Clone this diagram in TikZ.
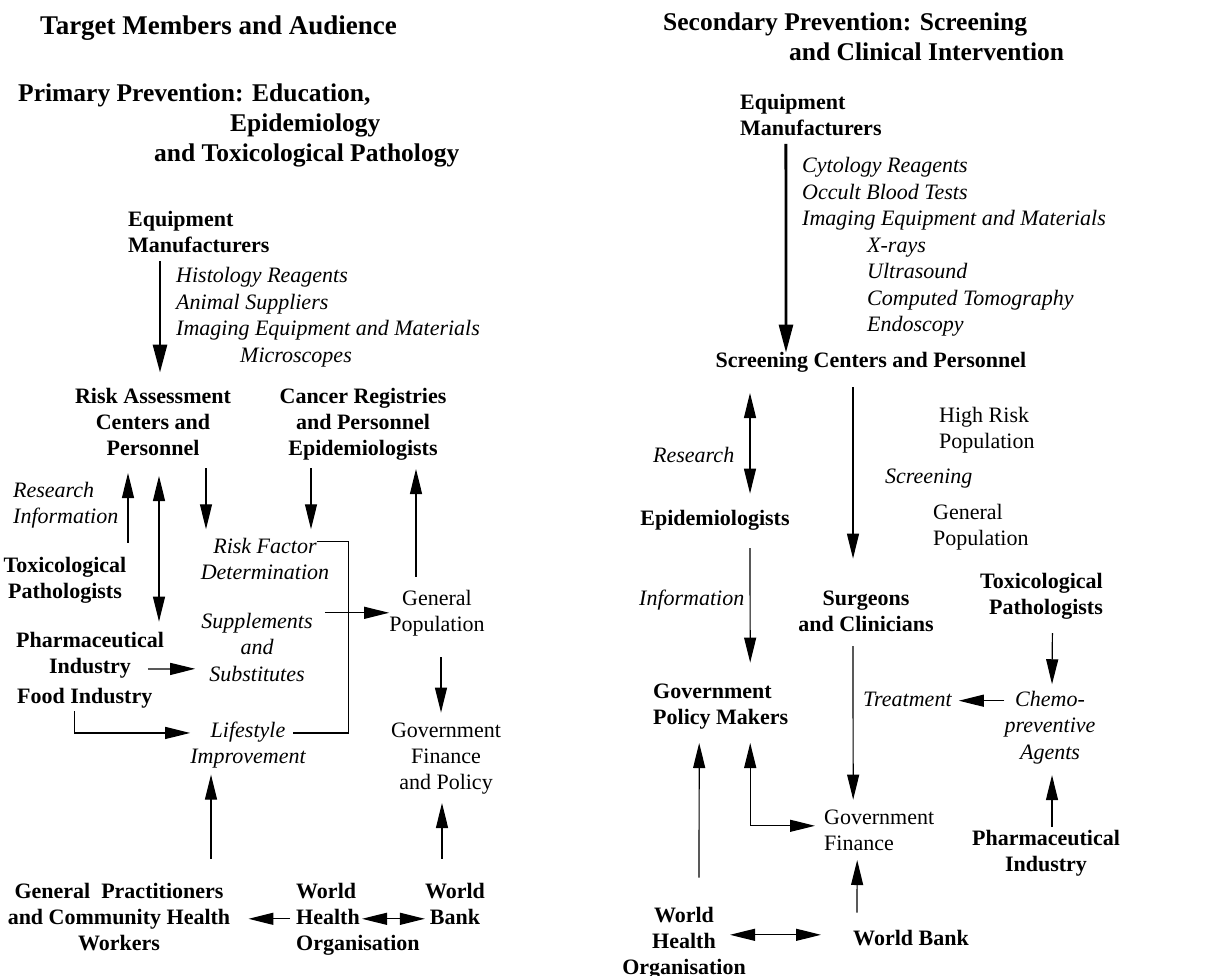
\documentclass[tikz,border=0pt]{standalone}
\usepackage{fontspec}
\setmainfont{Liberation Serif}
\usetikzlibrary{arrows.meta}

\newcommand{\cstack}[1]{\begin{tabular}[t]{@{}c@{}}#1\end{tabular}}
\newcommand{\lstack}[1]{\begin{tabular}[t]{@{}l@{}}#1\end{tabular}}
\newcommand{\rstack}[1]{\begin{tabular}[t]{@{}r@{}}#1\end{tabular}}

\tikzset{
  txt/.style={inner sep=0pt, anchor=base, font=\fontsize{22}{26}\selectfont},
  hd/.style={txt, font=\fontsize{22}{26}\selectfont\bfseries},
  itl/.style={txt, font=\fontsize{22}{26.5}\selectfont\itshape},
  ttl/.style={txt, anchor=base west, font=\fontsize{27}{32}\selectfont\bfseries},
  sub/.style={txt, anchor=base west, font=\fontsize{25.5}{30}\selectfont\bfseries},
  line/.style={line width=1.2pt},
  arr/.style={line, -{Triangle[length=25pt,width=12pt]}},
  dbl/.style={line, {Triangle[length=25pt,width=12pt]}-{Triangle[length=25pt,width=12pt]}},
  bigarr/.style={line width=2.8pt, -{Triangle[length=28pt,width=14pt]}}
}

\begin{document}
\begin{tikzpicture}[x=1pt,y=-1pt]
\useasboundingbox (0,0) rectangle (1212,976);
%headings
\node[ttl] (target) at (40,35) {Target Members and Audience};
\node[sub] (primary) at (18,102) {\lstack{Primary Prevention: Education,\\\hspace*{212pt}Epidemiology\\\hspace*{136pt}and Toxicological Pathology}};
\node[sub] (secondary) at (663,31) {\lstack{Secondary Prevention: Screening\\\hspace*{126pt}and Clinical Intervention}};

% primary prevention
\node[hd, anchor=base west] (equipA) at (128,227) {\lstack{Equipment\\Manufacturers}};
\node[itl, anchor=base west] (toolsA) at (176,283) {\lstack{Histology Reagents\\Animal Suppliers\\Imaging Equipment and Materials\\\hspace*{64pt}Microscopes}};
\node[hd] (riskA) at (153,403) {\cstack{Risk Assessment\\Centers and\\Personnel}};
\node[hd] (cancer) at (363,403) {\cstack{Cancer Registries\\and Personnel\\Epidemiologists}};
\node[itl, anchor=base west] (resinfo) at (13,497) {\lstack{Research\\Information}};
\node[hd] (toxA) at (65,572) {\cstack{Toxicological\\Pathologists}};
\node[itl] (riskf) at (265,553) {\cstack{Risk Factor\\Determination}};
\node[itl] (supp) at (257,628) {\cstack{Supplements\\and\\Substitutes}};
\node[txt] (popA) at (437,605) {\cstack{General\\Population}};
\node[hd] (pharmA) at (90,647) {\cstack{Pharmaceutical\\Industry}};
\node[hd, anchor=base west] (food) at (17,703) {\lstack{Food Industry}};
\node[itl] (life) at (248,737) {\cstack{Lifestyle\\Improvement}};
\node[txt] (govA) at (446,737) {\cstack{Government\\Finance\\and Policy}};
\node[hd] (gp) at (119,898) {\cstack{General~~Practitioners\\and Community Health\\Workers}};
\node[hd, anchor=base west] (whoA) at (296,898) {\lstack{World\\Health\\Organisation}};
\node[hd] (bankA) at (455,898) {\cstack{World\\Bank}};

%draw primary arrows
\draw[bigarr, shorten >=12pt] ([xshift=32pt]equipA.south west) -- ([xshift=7pt]riskA.north);
\draw[arr, shorten <=11pt, shorten >=10pt] ([xshift=63pt]toxA.north) -- ([xshift=-25pt]riskA.south);
\draw[dbl, shorten <=13pt, shorten >=7pt] ([xshift=6pt]riskA.south) -- ([xshift=69pt]pharmA.north);
\draw[arr, shorten <=5pt, shorten >=5pt] ([xshift=53pt]riskA.south) -- ([xshift=-59pt]riskf.north);
\draw[arr, shorten <=5pt, shorten >=5pt] ([xshift=-52pt]cancer.south) -- ([xshift=46pt]riskf.north);
\draw[arr, shorten <=10pt, shorten >=6pt] ([xshift=-21pt]popA.north) -- ([xshift=53pt]cancer.south);
\draw[line] ([xshift=-12pt,yshift=-7pt]riskf.north east) -- ++(31,0) |- ([xshift=-13pt,yshift=12pt]life.east);
\draw[arr] ([xshift=12pt]supp.north east |- popA.west) -- (popA.west);
\draw[arr, shorten >=6pt] ([xshift=58pt,yshift=12pt]pharmA.south) -- ([yshift=-19.6pt]supp.west);
\draw[arr] ([xshift=-10pt]food.south) |- ([yshift=12pt]life.west);
\draw[arr, shorten <=18pt, shorten >=6pt] ([xshift=4pt]popA.south) -- ([xshift=-5pt]govA.north);
\draw[arr, shorten <=21pt, shorten >=3pt] ([xshift=92pt]gp.north) -- ([xshift=-37pt]life.south);
\draw[arr, shorten <=21pt, shorten >=6pt] ([xshift=-13pt]bankA.north) -- ([xshift=-4pt]govA.south);
\draw[arr, shorten <=6pt, shorten >=18pt] (whoA.west) -- (gp.east);
\draw[dbl] ([xshift=66pt]whoA.west) -- ([yshift=-13pt]bankA.west);

% secondary prevention
\node[hd, anchor=base west] (equipB) at (740,110) {\lstack{Equipment\\Manufacturers}};
\node[itl, anchor=base west] (toolsB) at (802,173) {\lstack{Cytology Reagents\\Occult Blood Tests\\Imaging Equipment and Materials\\\hspace*{65pt}X-rays\\\hspace*{65pt}Ultrasound\\\hspace*{65pt}Computed Tomography\\\hspace*{65pt}Endoscopy}};
\node[hd] (screen) at (871,367) {\cstack{Screening Centers and Personnel}};
\node[itl, anchor=base west] (resB) at (653,462) {\lstack{Research}};
\node[txt, anchor=base west] (highrisk) at (939,422) {\lstack{High Risk\\Population}};
\node[itl, anchor=base west] (scrB) at (885,483) {\lstack{Screening}};
\node[txt, anchor=base west] (popB) at (933,519) {\lstack{General\\Population}};
\node[hd] (epiB) at (715,525) {\cstack{Epidemiologists}};
\node[itl, anchor=base west] (infoB) at (639,605) {\lstack{Information}};
\node[hd] (surg) at (866,605) {\cstack{Surgeons\\and Clinicians}};
\node[hd, anchor=base east] (toxB) at (1103,588) {\rstack{Toxicological\\Pathologists}};
\node[hd, anchor=base west] (govB) at (653,698) {\lstack{Government\\Policy Makers}};
\node[itl, anchor=base west] (treat) at (863,706) {\lstack{Treatment}};
\node[itl] (chemo) at (1050,706) {\cstack{Chemo-\\preventive\\Agents}};
\node[txt, anchor=base west] (govF) at (824,824) {\lstack{Government\\Finance}};
\node[hd] (pharmB) at (1046,845) {\cstack{Pharmaceutical\\Industry}};
\node[hd] (whoB) at (684,922) {\cstack{World\\Health\\Organisation}};
\node[hd, anchor=base west] (bankB) at (853,945) {\lstack{World Bank}};

%draw secondary arrows
\draw[bigarr, shorten >=-4pt] ([xshift=-25pt]equipB.south) -- ([xshift=-85pt]screen.north);
\draw[dbl, shorten <=18pt, shorten >=13pt] ([xshift=-121pt]screen.south) -- ([xshift=35pt]epiB.north);
\draw[arr, shorten <=12pt, shorten >=28pt] ([xshift=-18pt]screen.south) -- ([xshift=-13pt]surg.north);
\draw[arr, shorten <=15pt, shorten >=17pt] ([xshift=35pt]epiB.south) -- ([xshift=29.5pt]govB.north);
\draw[arr, shorten <=11pt, shorten >=3pt] ([xshift=11pt]toxB.south) -- ([xshift=2pt]chemo.north);
\draw[arr, shorten >=7pt] (chemo.west |- treat.east) -- (treat.east);
\draw[arr, shorten <=7pt, shorten >=6pt] ([xshift=-13pt]surg.south) -- ([xshift=-26pt]govF.north);
\draw[dbl, shorten <=11pt, shorten >=9pt] ([xshift=29.5pt]govB.south) |- ([yshift=6pt]govF.west);
\draw[arr, shorten <=26pt, shorten >=11pt] ([xshift=15pt]whoB.north) -- ([xshift=-21.5pt]govB.south);
\draw[dbl, shorten >=32pt] ([xshift=46pt,yshift=8pt]whoB.center) -- ([yshift=5pt]bankB.west);
\draw[arr, shorten <=14pt, shorten >=2pt] ([xshift=-54pt]bankB.north) -- ([xshift=-22pt]govF.south);
\draw[arr, shorten >=8pt] ([xshift=6pt]pharmB.north) -- ([xshift=2pt]chemo.south);
\end{tikzpicture}
\end{document}
